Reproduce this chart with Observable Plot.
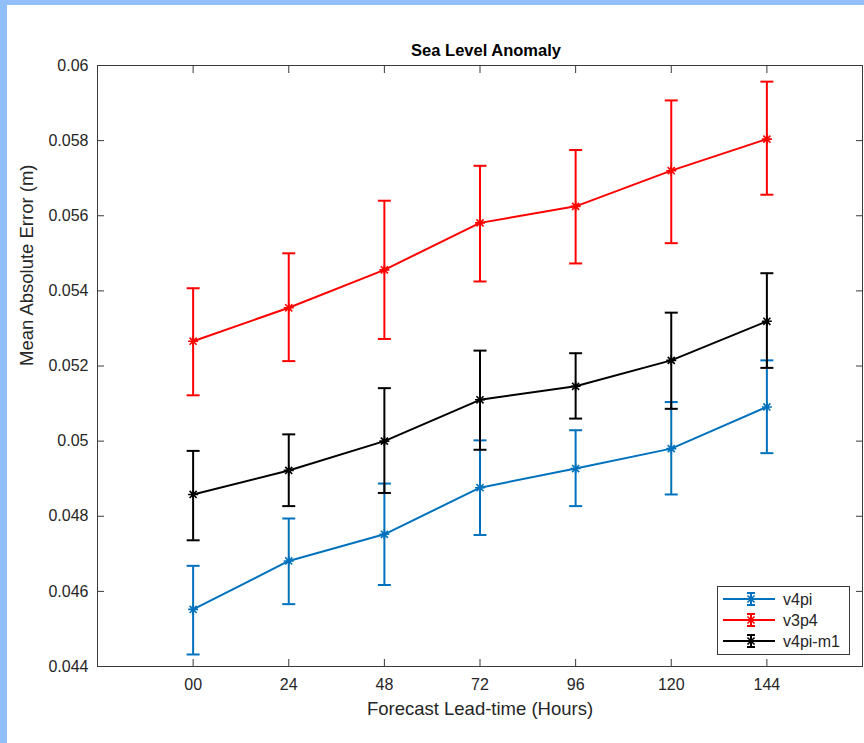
<!DOCTYPE html>
<html>
<head>
<meta charset="utf-8">
<script src="https://cdn.jsdelivr.net/npm/d3@7"></script>
<script src="https://cdn.jsdelivr.net/npm/@observablehq/plot@0.6"></script>
<style>
  html, body { margin: 0; padding: 0; background: #ffffff; }
  .wrap { border-left: 7px solid #93bff9; border-top: 5px solid #93bff9; width: 857px; height: 738px; background: #ffffff; }
</style>
</head>
<body>
<div class="wrap" id="chart"></div>
<script>
const chartTitle = "Sea Level Anomaly";
const xLabel = "Forecast Lead-time (Hours)";
const yLabel = "Mean Absolute Error (m)";

const hours = [0, 24, 48, 72, 96, 120, 144];
const hourLabels = ["00", "24", "48", "72", "96", "120", "144"];
const yTicks = [0.044, 0.046, 0.048, 0.05, 0.052, 0.054, 0.056, 0.058, 0.06];
const yTickLabels = ["0.044", "0.046", "0.048", "0.05", "0.052", "0.054", "0.056", "0.058", "0.06"];

const seriesNames = ["v4pi", "v3p4", "v4pi-m1"];
const seriesColors = ["#0072BD", "#FF0000", "#000000"];

const v4piMean = [0.04552, 0.04681, 0.04752, 0.04876, 0.04927, 0.04980, 0.05091];
const v4piLow  = [0.04432, 0.04566, 0.04617, 0.04750, 0.04827, 0.04858, 0.04968];
const v4piHigh = [0.04668, 0.04794, 0.04887, 0.05002, 0.05029, 0.05104, 0.05215];

const v3p4Mean = [0.05266, 0.05355, 0.05456, 0.05581, 0.05625, 0.05720, 0.05804];
const v3p4Low  = [0.05122, 0.05213, 0.05272, 0.05425, 0.05473, 0.05527, 0.05656];
const v3p4High = [0.05407, 0.05500, 0.05640, 0.05733, 0.05775, 0.05907, 0.05957];

const v4pim1Mean = [0.04858, 0.04922, 0.05000, 0.05110, 0.05146, 0.05215, 0.05319];
const v4pim1Low  = [0.04736, 0.04827, 0.04862, 0.04977, 0.05060, 0.05086, 0.05195];
const v4pim1High = [0.04974, 0.05018, 0.05141, 0.05241, 0.05234, 0.05342, 0.05447];

const means = [v4piMean, v3p4Mean, v4pim1Mean];
const lows = [v4piLow, v3p4Low, v4pim1Low];
const highs = [v4piHigh, v3p4High, v4pim1High];

const rows = seriesNames.flatMap((s, si) => hours.map((h, i) => ({
  series: s, hour: h, mean: means[si][i], low: lows[si][i], high: highs[si][i]
})));

const capSymbol = {
  draw(ctx, size) {
    const r = Math.sqrt(size / Math.PI);
    ctx.moveTo(-r, 0); ctx.lineTo(r, 0);
  }
};
const starSymbol = {
  draw(ctx, size) {
    const r = Math.sqrt(size / Math.PI);
    const d = r * Math.SQRT1_2;
    ctx.moveTo(-r, 0); ctx.lineTo(r, 0);
    ctx.moveTo(0, -r); ctx.lineTo(0, r);
    ctx.moveTo(-d, -d); ctx.lineTo(d, d);
    ctx.moveTo(-d, d); ctx.lineTo(d, -d);
  }
};

const axisColor = "#3a3a3a";
const textColor = "#262626";

const seriesMarks = seriesNames.flatMap(s => {
  const d = rows.filter(r => r.series === s);
  return [
    Plot.ruleX(d, {x: "hour", y1: "low", y2: "high", stroke: "series", strokeWidth: 2}),
    Plot.dot(d, {x: "hour", y: "low", symbol: capSymbol, r: 6.5, stroke: "series", strokeWidth: 2, fill: "none"}),
    Plot.dot(d, {x: "hour", y: "high", symbol: capSymbol, r: 6.5, stroke: "series", strokeWidth: 2, fill: "none"}),
    Plot.line(d, {x: "hour", y: "mean", stroke: "series", strokeWidth: 2}),
    Plot.dot(d, {x: "hour", y: "mean", symbol: starSymbol, r: 5, stroke: "series", strokeWidth: 1.6, fill: "none"})
  ];
});

const chart = Plot.plot({
  width: 857,
  height: 738,
  marginLeft: 90,
  marginRight: 2,
  marginTop: 60,
  marginBottom: 77,
  style: {fontFamily: "'Liberation Sans', Arial, Helvetica, sans-serif", fontSize: "16px", color: textColor, background: "#ffffff", overflow: "visible"},
  x: {domain: [-24, 168]},
  y: {domain: [0.044, 0.06]},
  color: {domain: seriesNames, range: seriesColors},
  marks: [
    Plot.axisX({ticks: hours, tickSize: 0, tickPadding: 12, tickFormat: d => hourLabels[hours.indexOf(d)], fontSize: 16, fill: textColor, label: null}),
    Plot.axisX({anchor: "bottom", ticks: hours, tickSize: -7, fill: "none", stroke: axisColor, label: null}),
    Plot.axisX({anchor: "top", ticks: hours, tickSize: -7, fill: "none", stroke: axisColor, label: null}),
    Plot.axisY({ticks: yTicks, tickSize: 0, tickPadding: 9, tickFormat: d => yTickLabels[yTicks.indexOf(d)], fontSize: 16, fill: textColor, label: null}),
    Plot.axisY({anchor: "left", ticks: yTicks, tickSize: -7, fill: "none", stroke: axisColor, label: null}),
    Plot.axisY({anchor: "right", ticks: yTicks, tickSize: -7, fill: "none", stroke: axisColor, label: null}),
    ...seriesMarks,
    Plot.frame({stroke: axisColor, strokeWidth: 1}),
    Plot.text([chartTitle], {text: d => d, frameAnchor: "top", dx: 6, dy: -10, lineAnchor: "bottom", fontWeight: "bold", fontSize: 16.5, fill: "#000000"}),
    Plot.text([xLabel], {text: d => d, frameAnchor: "bottom", dy: 48, lineAnchor: "bottom", fontSize: 18.5, fill: textColor}),
    Plot.text([yLabel], {text: d => d, frameAnchor: "left", dx: -65, rotate: -90, lineAnchor: "bottom", fontSize: 18.5, fill: textColor})
  ]
});

document.getElementById("chart").appendChild(chart);

// Legend (inside the axes, lower right)
const svg = d3.select(chart);
const lg = svg.append("g")
  .attr("font-family", "'Liberation Sans', Arial, Helvetica, sans-serif")
  .attr("font-size", 16)
  .attr("text-anchor", "start");
const lx = 710, ly = 581, lw = 132, lh = 68;
lg.append("rect").attr("x", lx + 0.5).attr("y", ly + 0.5).attr("width", lw).attr("height", lh)
  .attr("fill", "#ffffff").attr("stroke", axisColor).attr("stroke-width", 1);
seriesNames.forEach((name, i) => {
  const yy = ly + 13 + i * 21;
  const c = seriesColors[i];
  const g = lg.append("g").attr("stroke", c).attr("fill", "none");
  g.append("line").attr("x1", lx + 6).attr("x2", lx + 58).attr("y1", yy).attr("y2", yy).attr("stroke-width", 2);
  const mx = lx + 34;
  g.append("line").attr("x1", mx).attr("x2", mx).attr("y1", yy - 6).attr("y2", yy + 6).attr("stroke-width", 2);
  g.append("line").attr("x1", mx - 4).attr("x2", mx + 4).attr("y1", yy - 6).attr("y2", yy - 6).attr("stroke-width", 2);
  g.append("line").attr("x1", mx - 4).attr("x2", mx + 4).attr("y1", yy + 6).attr("y2", yy + 6).attr("stroke-width", 2);
  g.append("path").attr("transform", `translate(${mx},${yy})`).attr("stroke-width", 1.6)
    .attr("d", d3.symbol(starSymbol, Math.PI * 25)());
  lg.append("text").attr("x", lx + 66).attr("y", yy).attr("dy", "0.35em")
    .attr("text-anchor", "start").attr("fill", textColor).text(name);
});
</script>
</body>
</html>
